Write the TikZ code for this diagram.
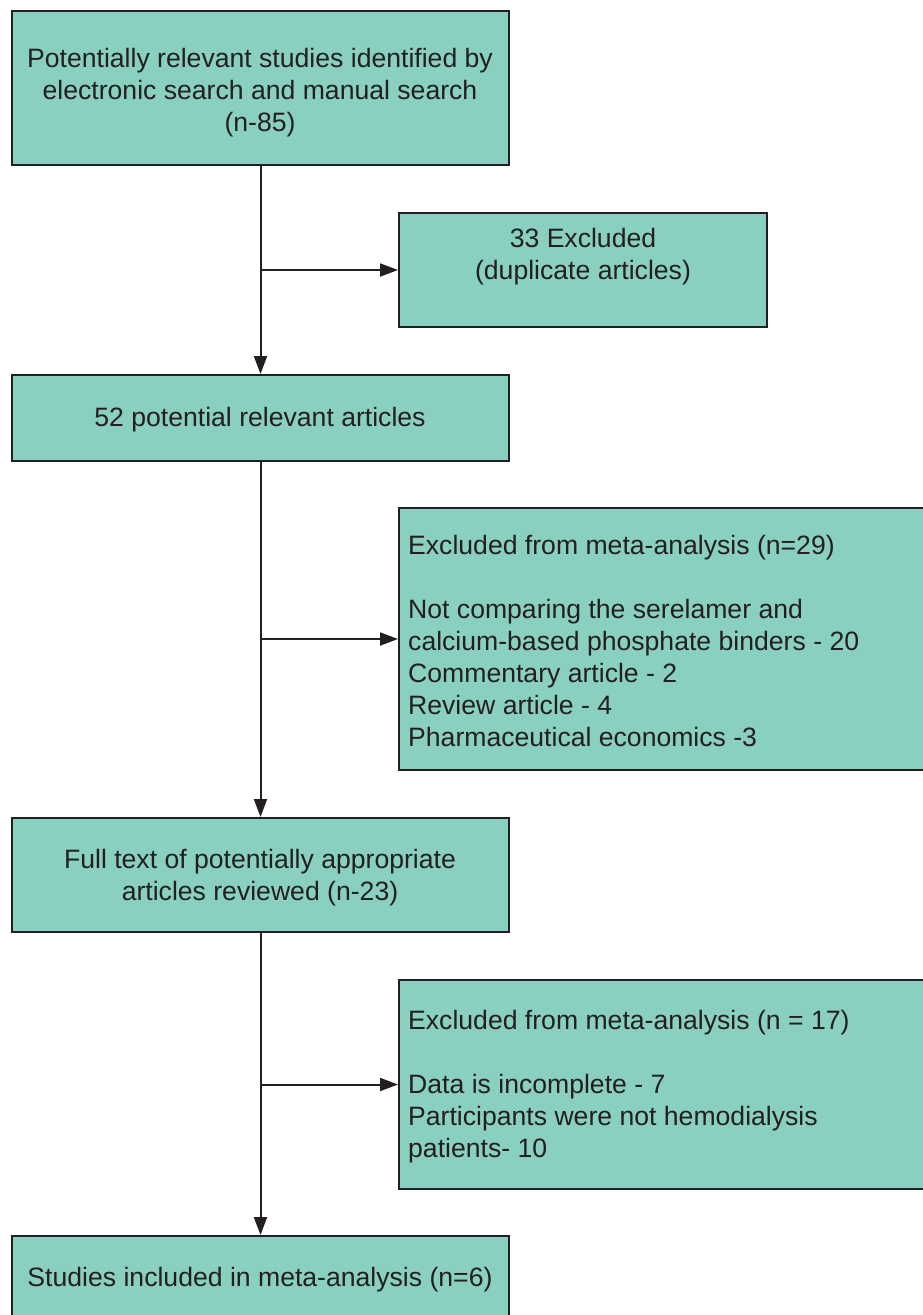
\documentclass[tikz,border=0pt]{standalone}
\usepackage{fontspec}
\setmainfont{Liberation Sans}
\usetikzlibrary{arrows.meta}
\definecolor{boxfill}{HTML}{89D0C0}
\definecolor{edge}{HTML}{231F20}
\tikzset{
  box/.style={draw=edge, fill=boxfill, line width=2pt, rectangle, inner sep=0pt},
  txt/.style={inner sep=0pt, text=edge, font=\fontsize{26.6}{32}\selectfont},
  arr/.style={draw=edge, line width=2pt, -{Triangle[length=18pt,width=13pt]}},
}
\begin{document}
\begin{tikzpicture}[x=1pt,y=1pt]
\useasboundingbox (0,0) rectangle (922,-1315);
% boxes
\node[box, minimum width=497pt, minimum height=154pt] (b1) at (260.5,-88) {};
\node[box, minimum width=368pt, minimum height=114pt] (b2) at (583,-270) {};
\node[box, minimum width=497pt, minimum height=86pt] (b3) at (260.5,-418) {};
\node[box, minimum width=527pt, minimum height=262pt] (b4) at (662.5,-639) {};
\node[box, minimum width=497pt, minimum height=114pt] (b5) at (260.5,-875) {};
\node[box, minimum width=527pt, minimum height=209pt] (b6) at (662.5,-1084.5) {};
\node[box, minimum width=497pt, minimum height=100pt] (b7) at (260.5,-1286) {};
% texts
\node[txt, align=center] (t1) at (260,-93) {Potentially relevant studies identified by\\electronic search and manual search\\(n-85)};
\node[txt, align=center] (t2) at (583,-257) {33 Excluded\\(duplicate articles)};
\node[txt] (t3) at (260,-420) {52 potential relevant articles};
\node[txt, align=left, anchor=north west] (t4) at (408,-535) {Excluded from meta-analysis (n=29)\\[32pt]Not comparing the serelamer and\\calcium-based phosphate binders - 20\\Commentary article - 2\\Review article - 4\\Pharmaceutical economics -3};
\node[txt, align=center] (t5) at (260,-878) {Full text of potentially appropriate\\articles reviewed (n-23)};
\node[txt, align=left, anchor=north west] (t6) at (408,-1010) {Excluded from meta-analysis (n = 17)\\[32pt]Data is incomplete - 7\\Participants were not hemodialysis\\patients- 10};
\node[txt] (t7) at (260,-1280) {Studies included in meta-analysis (n=6)};
% connectors
\draw[arr] (b1.south) -- (b3.north);
\draw[arr] (b3.south) -- (b5.north);
\draw[arr] (b5.south) -- (b7.north);
\draw[arr] (b1.south |- b2.west) -- (b2.west);
\draw[arr] (b3.south |- b4.west) -- (b4.west);
\draw[arr] (b5.south |- b6.west) -- (b6.west);
\end{tikzpicture}
\end{document}
